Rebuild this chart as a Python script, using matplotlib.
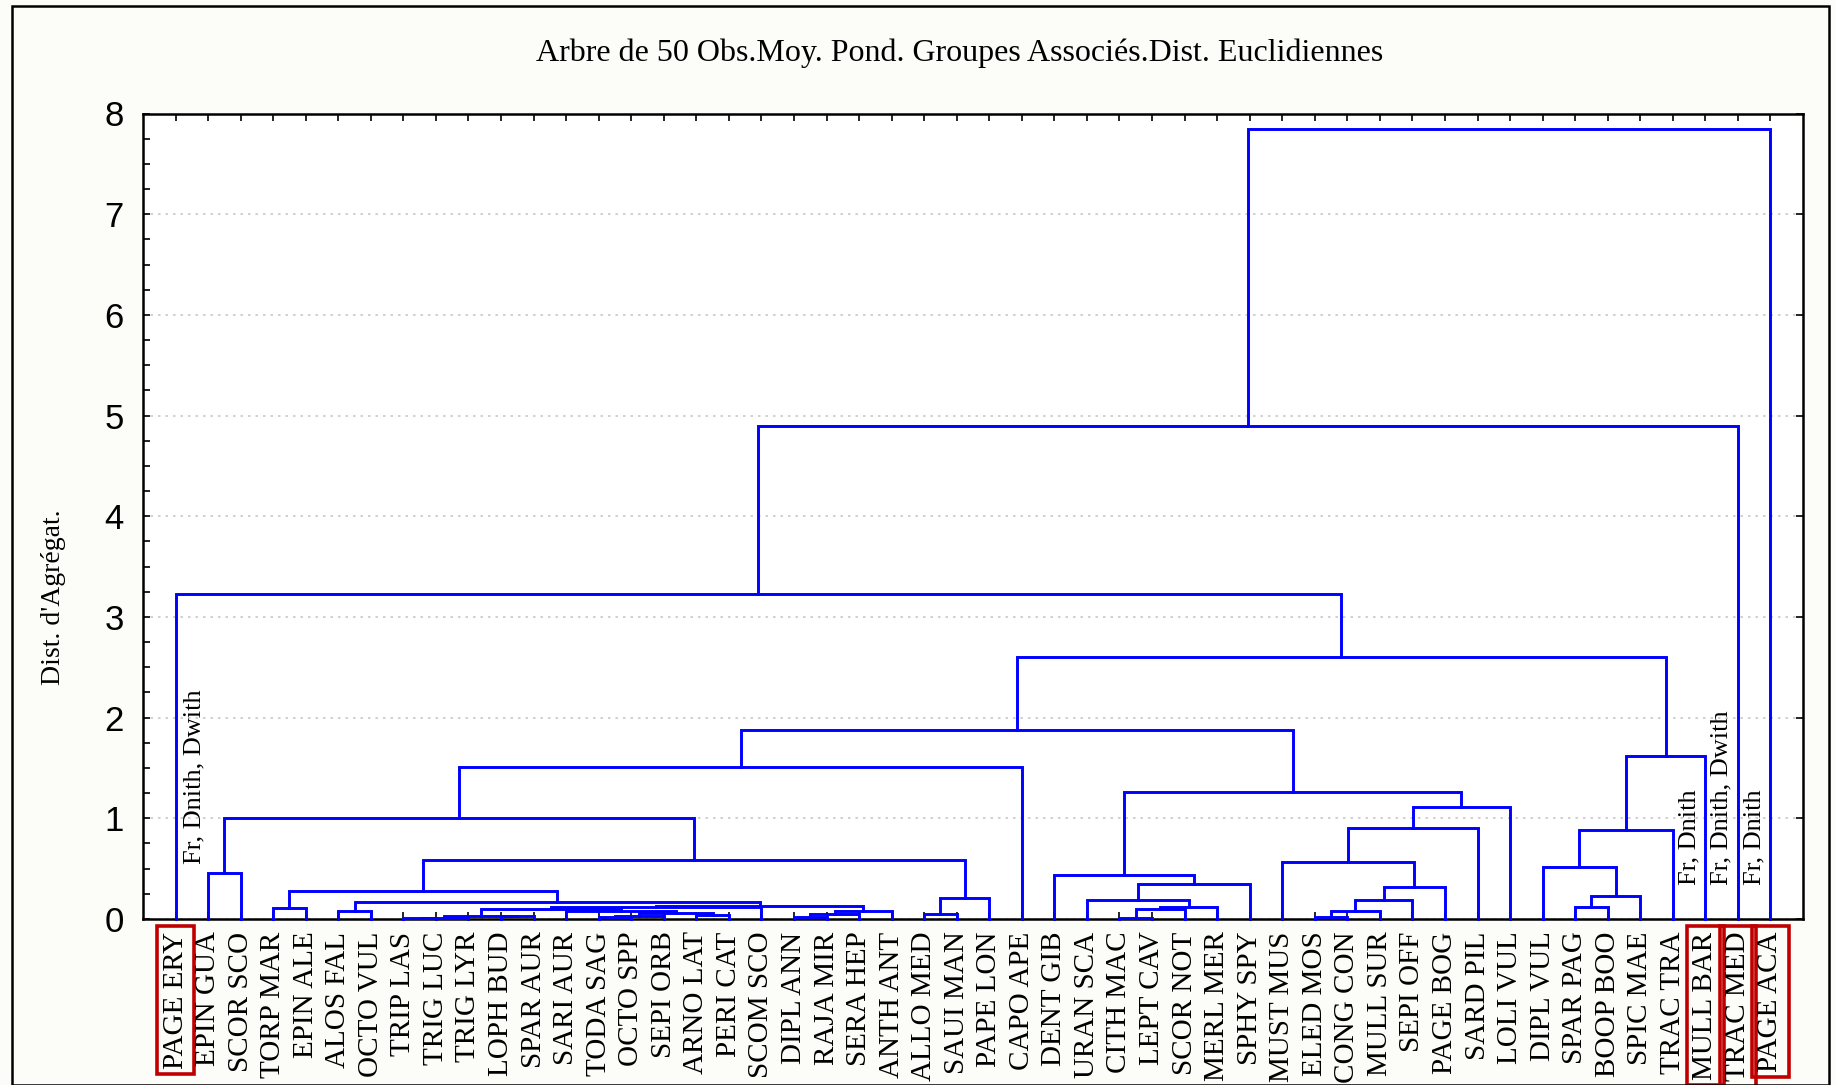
"""Dendrogramme des 50 espèces (style STATISTICA), redessiné avec matplotlib."""

import matplotlib
matplotlib.use("Agg")
import matplotlib.pyplot as plt
from matplotlib.patches import Rectangle


TITLE = "Arbre de 50 Obs.Moy. Pond. Groupes Associés.Dist. Euclidiennes"
Y_LABEL = "Dist. d'Agrégat."

# ordre des feuilles, de gauche à droite
LEAVES = [
    "PAGE ERY", "EPIN GUA", "SCOR SCO", "TORP MAR", "EPIN ALE",
    "ALOS FAL", "OCTO VUL", "TRIP LAS", "TRIG LUC", "TRIG LYR",
    "LOPH BUD", "SPAR AUR", "SARI AUR", "TODA SAG", "OCTO SPP",
    "SEPI ORB", "ARNO LAT", "PERI CAT", "SCOM SCO", "DIPL ANN",
    "RAJA MIR", "SERA HEP", "ANTH ANT", "ALLO MED", "SAUI MAN",
    "PAPE LON", "CAPO APE", "DENT GIB", "URAN SCA", "CITH MAC",
    "LEPT CAV", "SCOR NOT", "MERL MER", "SPHY SPY", "MUST MUS",
    "ELED MOS", "CONG CON", "MULL SUR", "SEPI OFF", "PAGE BOG",
    "SARD PIL", "LOLI VUL", "DIPL VUL", "SPAR PAG", "BOOP BOO",
    "SPIC MAE", "TRAC TRA", "MULL BAR", "TRAC MED", "PAGE ACA",
]

# agrégations : (nom, enfant gauche, enfant droit, distance d'agrégation)
MERGES = [
    ("a1", "TRIP LAS", "TRIG LUC", 0.008),
    ("a2", "a1", "TRIG LYR", 0.012),
    ("a3", "LOPH BUD", "SPAR AUR", 0.025),
    ("a4", "a2", "a3", 0.03),
    ("a5", "TODA SAG", "OCTO SPP", 0.02),
    ("a6", "a5", "SEPI ORB", 0.03),
    ("a7", "ARNO LAT", "PERI CAT", 0.04),
    ("a8", "a6", "a7", 0.06),
    ("a9", "SARI AUR", "a8", 0.08),
    ("a10", "a4", "a9", 0.10),
    ("a11", "a10", "SCOM SCO", 0.12),
    ("a12", "DIPL ANN", "RAJA MIR", 0.02),
    ("a13", "a12", "SERA HEP", 0.05),
    ("a14", "a13", "ANTH ANT", 0.076),
    ("a15", "a11", "a14", 0.13),
    ("a16", "ALOS FAL", "OCTO VUL", 0.08),
    ("a17", "a16", "a15", 0.17),
    ("a18", "TORP MAR", "EPIN ALE", 0.106),
    ("a19", "a18", "a17", 0.28),
    ("a20", "ALLO MED", "SAUI MAN", 0.05),
    ("a21", "a20", "PAPE LON", 0.21),
    ("a22", "a19", "a21", 0.59),
    ("a23", "EPIN GUA", "SCOR SCO", 0.46),
    ("a24", "a23", "a22", 1.00),
    ("a25", "a24", "CAPO APE", 1.51),
    ("b1", "CITH MAC", "LEPT CAV", 0.01),
    ("b2", "b1", "SCOR NOT", 0.10),
    ("b3", "b2", "MERL MER", 0.12),
    ("b4", "URAN SCA", "b3", 0.19),
    ("b5", "b4", "SPHY SPY", 0.345),
    ("b6", "DENT GIB", "b5", 0.44),
    ("c1", "ELED MOS", "CONG CON", 0.02),
    ("c2", "c1", "MULL SUR", 0.08),
    ("c3", "c2", "SEPI OFF", 0.19),
    ("c4", "c3", "PAGE BOG", 0.32),
    ("c5", "MUST MUS", "c4", 0.57),
    ("c6", "c5", "SARD PIL", 0.90),
    ("c7", "c6", "LOLI VUL", 1.11),
    ("c8", "b6", "c7", 1.26),
    ("c9", "a25", "c8", 1.88),
    ("d1", "SPAR PAG", "BOOP BOO", 0.12),
    ("d2", "d1", "SPIC MAE", 0.23),
    ("d3", "DIPL VUL", "d2", 0.52),
    ("d4", "d3", "TRAC TRA", 0.88),
    ("d5", "d4", "MULL BAR", 1.62),
    ("e1", "c9", "d5", 2.60),
    ("e2", "PAGE ERY", "e1", 3.23),
    ("e3", "e2", "TRAC MED", 4.90),
    ("e4", "e3", "PAGE ACA", 7.85),
]

HIGHLIGHTED = ["PAGE ERY", "MULL BAR", "TRAC MED", "PAGE ACA"]

# annotations portées le long de certaines branches
NOTES = [
    ("PAGE ERY", "Fr, Dnith, Dwith"),
    ("MULL BAR", "Fr, Dnith"),
    ("TRAC MED", "Fr, Dnith, Dwith"),
    ("PAGE ACA", "Fr, Dnith"),
]

Y_TICKS = [0, 1, 2, 3, 4, 5, 6, 7, 8]

SERIF = "Liberation Serif"
SANS = "Liberation Sans"
BLUE = "#0000ff"


def main() -> None:
    fig = plt.figure(figsize=(18.36, 10.85), dpi=100, facecolor="#fcfcf9")
    ax = fig.add_axes([143 / 1836, 1 - 919 / 1085, 1660 / 1836, 805.5 / 1085])
    ax.set_facecolor("white")

    # positions des feuilles et des noeuds
    pos = {name: i + 1 for i, name in enumerate(LEAVES)}
    height = {name: 0.0 for name in LEAVES}
    for name, left, right, h in MERGES:
        xl, xr = pos[left], pos[right]
        ax.plot([xl, xl, xr, xr], [height[left], h, h, height[right]],
                color=BLUE, lw=2.1, solid_joinstyle="miter", zorder=3,
                clip_on=False)
        pos[name] = (xl + xr) / 2
        height[name] = h

    ax.set_xlim(0, len(LEAVES) + 1)
    ax.set_ylim(Y_TICKS[0], Y_TICKS[-1])

    ax.set_xticks(range(1, len(LEAVES) + 1))
    ax.set_xticklabels(LEAVES, rotation=90, family=SERIF, fontsize=21)
    ax.set_yticks(Y_TICKS)
    ax.set_yticklabels([str(t) for t in Y_TICKS], family=SANS, fontsize=25)
    ax.set_yticks([t / 4 for t in range(Y_TICKS[-1] * 4 + 1)], minor=True)

    ax.tick_params(axis="x", direction="in", top=True, length=5, width=1.2,
                   pad=9, colors="black")
    ax.tick_params(axis="y", which="both", direction="in", right=True,
                   length=5, width=1.2, pad=14)
    ax.tick_params(axis="y", which="minor", right=False)

    for spine in ax.spines.values():
        spine.set_linewidth(1.8)
        spine.set_color("black")

    ax.grid(axis="y", which="major", linestyle=(0, (1.5, 3)),
            color="#c8c8c8", lw=1.2, zorder=0)

    for label in ax.get_xticklabels():
        if label.get_text() in HIGHLIGHTED:
            label.set_bbox(dict(boxstyle="square,pad=0.18", fc="none",
                                ec="#c00000", lw=2.6))

    for leaf, text in NOTES:
        x = pos[leaf] + (0.58 if leaf == LEAVES[0] else -0.5)
        y = 0.55 if leaf == LEAVES[0] else 0.34
        ax.text(x, y, text, rotation=90, ha="center", va="bottom",
                family=SERIF, fontsize=19, zorder=4)

    fig.text(960 / 1836, 1 - 53 / 1085, TITLE, ha="center", va="center",
             family=SERIF, fontsize=23)
    fig.text(53 / 1836, 1 - 597 / 1085, Y_LABEL, rotation=90,
             ha="center", va="center", family=SERIF, fontsize=20)

    # cadre extérieur
    fig.patches.append(Rectangle((12 / 1836, 0.0), (1829 - 12) / 1836,
                                 1 - 6 / 1085, transform=fig.transFigure,
                                 fill=False, ec="black", lw=1.8))

    fig.savefig("out.png", dpi=100, facecolor=fig.get_facecolor())
    plt.close(fig)


if __name__ == "__main__":
    main()
